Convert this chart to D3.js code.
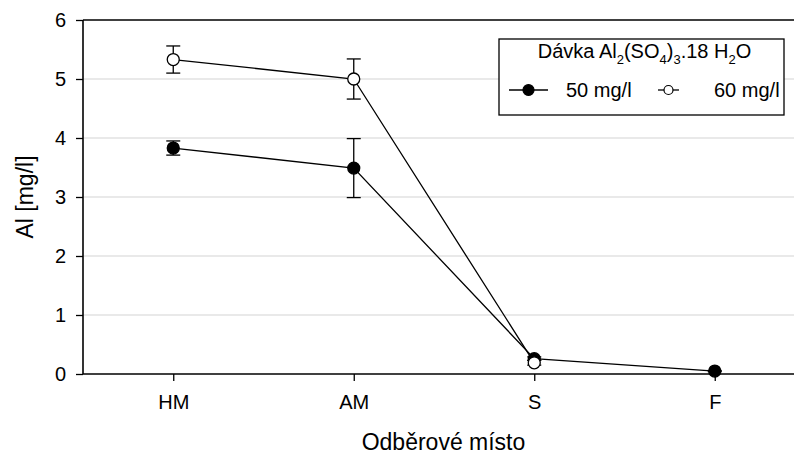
<!DOCTYPE html>
<html>
<head>
<meta charset="utf-8">
<script src="https://cdn.jsdelivr.net/npm/d3@7"></script>
<style>
  html, body { margin: 0; padding: 0; background: #fff; }
  svg { display: block; font-family: "Liberation Sans", Arial, sans-serif; }
</style>
</head>
<body>
<svg id="chart" width="794" height="455"></svg>
<script>
// Sampling sites and measured aluminium concentrations
const sites = ["HM", "AM", "S", "F"];
const dose50 = [3.83, 3.49, 0.26, 0.05];
const dose50Err = [0.12, 0.50, 0.03, 0.01];
const dose60 = [5.33, 5.00, 0.19, null];
const dose60Err = [0.23, 0.34, 0.04, null];
const yTicks = [0, 1, 2, 3, 4, 5, 6];
const seriesNames = ["50 mg/l", "60 mg/l"];

const svg = d3.select("#chart");
const plotLeft = 83, plotRight = 805, plotTop = 20, plotBottom = 374;

const x = d3.scalePoint().domain(sites).range([plotLeft, plotRight]).padding(0.5);
const y = d3.scaleLinear().domain([0, 6]).range([plotBottom, plotTop]);

// Horizontal grid lines
svg.append("g")
  .selectAll("line")
  .data(yTicks.filter(t => t > 0 && t < 6))
  .join("line")
  .attr("x1", plotLeft).attr("x2", plotRight)
  .attr("y1", d => y(d)).attr("y2", d => y(d))
  .attr("stroke", "#d4d4d4").attr("stroke-width", 1.2);

// Axes
const yAxis = svg.append("g")
  .attr("transform", `translate(${plotLeft},0)`)
  .call(d3.axisLeft(y).tickValues(yTicks).tickSize(7).tickPadding(10).tickFormat(d3.format("d")));
const xAxis = svg.append("g")
  .attr("transform", `translate(0,${plotBottom})`)
  .call(d3.axisBottom(x).tickSize(7).tickPadding(14));
[yAxis, xAxis].forEach(g => {
  g.select(".domain").remove();
  g.selectAll("line").attr("stroke", "#000").attr("stroke-width", 1.3);
  g.selectAll("text").attr("fill", "#000").style("font-size", "20px")
    .style("font-family", "'Liberation Sans', Arial, sans-serif");
});

// Frame: left spine, bottom axis line and top border
svg.append("line").attr("x1", plotLeft).attr("x2", plotLeft).attr("y1", plotTop).attr("y2", plotBottom)
  .attr("stroke", "#000").attr("stroke-width", 1.6);
svg.append("line").attr("x1", plotLeft).attr("x2", plotRight).attr("y1", plotBottom).attr("y2", plotBottom)
  .attr("stroke", "#000").attr("stroke-width", 1.6);
svg.append("line").attr("x1", plotLeft).attr("x2", plotRight).attr("y1", plotTop).attr("y2", plotTop)
  .attr("stroke", "#000").attr("stroke-width", 1.6);

// Axis titles
svg.append("text")
  .attr("transform", `translate(33,${(plotTop + plotBottom) / 2}) rotate(-90)`)
  .attr("text-anchor", "middle")
  .style("font-size", "23px")
  .text("Al [mg/l]");
svg.append("text")
  .attr("x", 443.5)
  .attr("y", 450)
  .attr("text-anchor", "middle")
  .style("font-size", "23px")
  .text("Odběrové místo");

// Series: line, error bars, markers
function drawSeries(values, errs, fill) {
  const pts = sites.map((s, i) => ({ s, v: values[i], e: errs[i] })).filter(d => d.v != null);
  const g = svg.append("g");
  g.append("path")
    .datum(pts)
    .attr("fill", "none").attr("stroke", "#000").attr("stroke-width", 1.3)
    .attr("d", d3.line().x(d => x(d.s)).y(d => y(d.v)));
  const eb = g.selectAll(".eb").data(pts).join("g");
  eb.append("line")
    .attr("x1", d => x(d.s)).attr("x2", d => x(d.s))
    .attr("y1", d => y(d.v + d.e)).attr("y2", d => y(d.v - d.e))
    .attr("stroke", "#000").attr("stroke-width", 1.3);
  eb.append("line")
    .attr("x1", d => x(d.s) - 7).attr("x2", d => x(d.s) + 7)
    .attr("y1", d => y(d.v + d.e)).attr("y2", d => y(d.v + d.e))
    .attr("stroke", "#000").attr("stroke-width", 1.3);
  eb.append("line")
    .attr("x1", d => x(d.s) - 7).attr("x2", d => x(d.s) + 7)
    .attr("y1", d => y(d.v - d.e)).attr("y2", d => y(d.v - d.e))
    .attr("stroke", "#000").attr("stroke-width", 1.3);
  g.selectAll("circle").data(pts).join("circle")
    .attr("cx", d => x(d.s)).attr("cy", d => y(d.v)).attr("r", 6)
    .attr("fill", fill).attr("stroke", "#000").attr("stroke-width", 1.3);
}
drawSeries(dose50, dose50Err, "#000");
drawSeries(dose60, dose60Err, "#fff");

// Legend
const lg = svg.append("g");
lg.append("rect").attr("x", 499).attr("y", 39).attr("width", 285).attr("height", 76)
  .attr("fill", "#fff").attr("stroke", "#000").attr("stroke-width", 1.3);
const title = lg.append("text").attr("x", 644.5).attr("y", 58).attr("text-anchor", "middle")
  .style("font-size", "20px");
title.append("tspan").text("Dávka Al");
title.append("tspan").attr("dy", 6).style("font-size", "13px").text("2");
title.append("tspan").attr("dy", -6).text("(SO");
title.append("tspan").attr("dy", 6).style("font-size", "13px").text("4");
title.append("tspan").attr("dy", -6).text(")");
title.append("tspan").attr("dy", 6).style("font-size", "13px").text("3");
title.append("tspan").attr("dy", -6).text(".18 H");
title.append("tspan").attr("dy", 6).style("font-size", "13px").text("2");
title.append("tspan").attr("dy", -6).text("O");

const items = [
  { name: seriesNames[0], x1: 509, x2: 548, r: 5.5, fill: "#000", tx: 566 },
  { name: seriesNames[1], x1: 658, x2: 679, r: 4.5, fill: "#fff", tx: 714 }
];
items.forEach(it => {
  const cy = 90;
  lg.append("line").attr("x1", it.x1).attr("x2", it.x2).attr("y1", cy).attr("y2", cy)
    .attr("stroke", "#000").attr("stroke-width", 1.3);
  lg.append("circle").attr("cx", (it.x1 + it.x2) / 2).attr("cy", cy).attr("r", it.r)
    .attr("fill", it.fill).attr("stroke", "#000").attr("stroke-width", 1.2);
  lg.append("text").attr("x", it.tx).attr("y", cy + 7).style("font-size", "20px").text(it.name);
});
</script>
</body>
</html>
